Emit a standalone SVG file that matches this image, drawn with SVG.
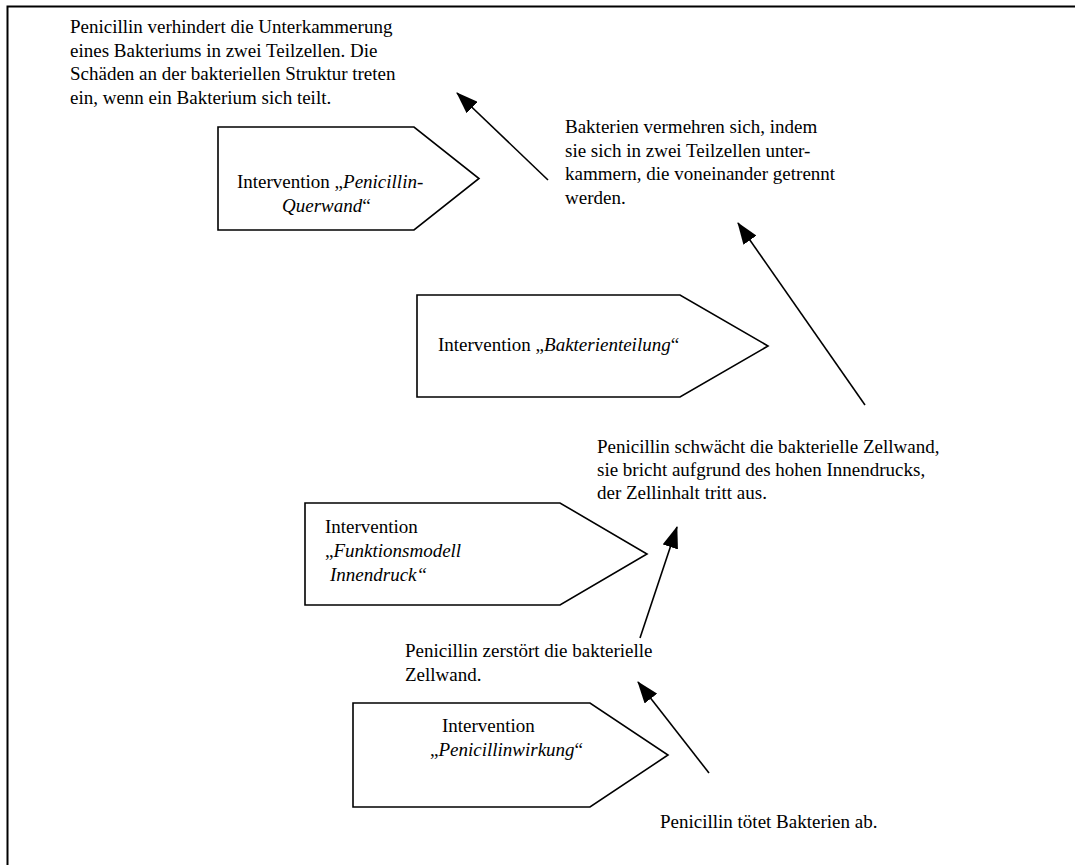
<svg xmlns="http://www.w3.org/2000/svg" width="1075" height="865" viewBox="0 0 1075 865">
<style>
.i{font-style:italic}
.node polygon{fill:#fff;stroke:#000;stroke-width:1.6}
.conn line{stroke:#000;stroke-width:1.6}
.ser{font-family:"Liberation Serif", "Times New Roman", serif}
</style>
<defs>
<marker id="ah" markerUnits="userSpaceOnUse" markerWidth="22" markerHeight="16" viewBox="0 0 22 16" refX="21" refY="8" orient="auto">
<path d="M0,0 L22,8 L0,16 z" fill="#000"/>
</marker>
</defs>
<rect width="1075" height="865" fill="#fff"/>
<path d="M7.5,1000 L7.5,6.5 L1100,6.5" fill="none" stroke="#000" stroke-width="2"/>
<g class="ser" font-size="19" fill="#000">

<g id="t1">
<text x="70" y="33">Penicillin verhindert die Unterkammerung</text>
<text x="70" y="56.5">eines Bakteriums in zwei Teilzellen. Die</text>
<text x="70" y="80">Schäden an der bakteriellen Struktur treten</text>
<text x="70" y="103.5">ein, wenn ein Bakterium sich teilt.</text>
</g>

<g id="t2">
<text x="565" y="133">Bakterien vermehren sich, indem</text>
<text x="565" y="156.5">sie sich in zwei Teilzellen unter-</text>
<text x="565" y="180">kammern, die voneinander getrennt</text>
<text x="565" y="203.5">werden.</text>
</g>

<g id="n1" class="node">
<polygon points="218,127 414,127 479,178.5 414,230 218,230"/>
<text x="237" y="188">Intervention „<tspan class="i">Penicillin-</tspan></text>
<text x="282" y="212"><tspan class="i">Querwand</tspan>“</text>
</g>

<g id="n2" class="node">
<polygon points="417,295 680,295 768,346 680,397 417,397"/>
<text x="438" y="351">Intervention „<tspan class="i">Bakterienteilung</tspan>“</text>
</g>

<g id="t3">
<text x="597" y="453">Penicillin schwächt die bakterielle Zellwand,</text>
<text x="597" y="476">sie bricht aufgrund des hohen Innendrucks,</text>
<text x="597" y="499">der Zellinhalt tritt aus.</text>
</g>

<g id="n3" class="node">
<polygon points="305,503 560,503 647,554 560,605 305,605"/>
<text x="325" y="533">Intervention</text>
<text x="325" y="557">„<tspan class="i">Funktionsmodell</tspan></text>
<text x="330" y="581"><tspan class="i">Innendruck“</tspan></text>
</g>

<g id="t4">
<text x="405" y="657">Penicillin zerstört die bakterielle</text>
<text x="405" y="681">Zellwand.</text>
</g>

<g id="n4" class="node">
<polygon points="353,703 590,703 668,755 590,807 353,807"/>
<text x="442" y="732">Intervention</text>
<text x="430" y="756">„<tspan class="i">Penicillinwirkung</tspan>“</text>
</g>

<g id="t5">
<text x="660" y="828">Penicillin tötet Bakterien ab.</text>
</g>
</g>

<g id="connectors" class="conn">
<line x1="548" y1="180" x2="457" y2="93" marker-end="url(#ah)"/>
<line x1="865" y1="405" x2="738" y2="223" marker-end="url(#ah)"/>
<line x1="640" y1="638" x2="677" y2="527" marker-end="url(#ah)"/>
<line x1="709" y1="773" x2="638" y2="682" marker-end="url(#ah)"/>
</g>
</svg>
